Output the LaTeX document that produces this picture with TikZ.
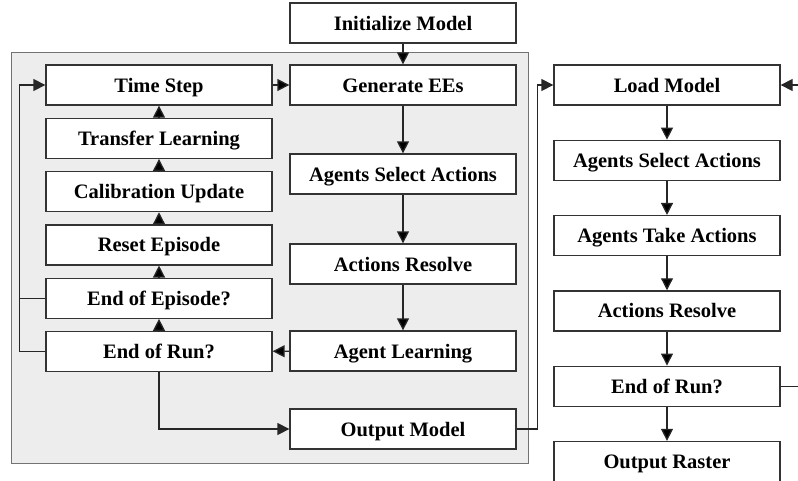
\documentclass[tikz,border=0pt]{standalone}
\usepackage{fontspec}
\setmainfont{Liberation Serif}
\usetikzlibrary{positioning, arrows.meta}

\tikzset{
  box/.style={draw=black!80, fill=white, line width=1.3pt, minimum width=226pt,
    minimum height=40pt, inner sep=0pt, text height=14pt, text depth=0pt,
    font=\bfseries\fontsize{20.5}{22}\selectfont},
  panel/.style={draw=black!55, fill=black!7, line width=1pt},
  link/.style={draw=black!85, line width=1.3pt}
}

\begin{document}
\begin{tikzpicture}[x=1pt, y=1pt, on grid, node distance=53.3pt,
    >={Triangle[length=12pt, width=12pt]}]
    \useasboundingbox (0,0) rectangle (798,-480);
    \draw[panel] (11,-52) rectangle (528,-463);

    % inner loop, middle column
    \node[box] (gen) at (403,-85) {Generate EEs};
    \node[box] (init) [above=62pt of gen] {Initialize Model};
    \node[box] (sel1) [below=89pt of gen] {Agents Select Actions};
    \node[box] (res1) [below=90pt of sel1] {Actions Resolve};
    \node[box] (learn) [below=87pt of res1] {Agent Learning};
    \node[box] (outmod) [below=78pt of learn] {Output Model};

    % left column
    \node[box] (time) [left=244pt of gen] {Time Step};
    \node[box] (transfer) [below=of time] {Transfer Learning};
    \node[box] (calib) [below=of transfer] {Calibration Update};
    \node[box] (reset) [below=of calib] {Reset Episode};
    \node[box] (endep) [below=of reset] {End of Episode?};
    \node[box] (endrun) [below=of endep] {End of Run?};

    % right column
    \node[box] (load) [right=264pt of gen] {Load Model};
    \node[box] (sel2) [below=75.3pt of load] {Agents Select Actions};
    \node[box] (take) [below=75.3pt of sel2] {Agents Take Actions};
    \node[box] (res2) [below=75.3pt of take] {Actions Resolve};
    \node[box] (endrun2) [below=75.3pt of res2] {End of Run?};
    \node[box] (raster) [below=75.3pt of endrun2] {Output Raster};

    \path[link, ->]
    (init) edge (gen)
    (time) edge (gen)
    (gen) edge (sel1)
    (sel1) edge (res1)
    (res1) edge (learn)
    (learn) edge (endrun)
    (endrun) edge (endep)
    (endep) edge (reset)
    (reset) edge (calib)
    (calib) edge (transfer)
    (transfer) edge (time)
    (load) edge (sel2)
    (sel2) edge (take)
    (take) edge (res2)
    (res2) edge (endrun2)
    (endrun2) edge (raster);

    \draw[link, ->] (endrun.west) -- ++(-26,0) |- (time.west);
    \draw[link] (endep.west) -- ++(-26,0);
    \draw[link, ->] (endrun.south) |- (outmod.west);
    \draw[link, ->] (outmod.east) -- ++(21,0) |- (load.west);
    \draw[link, ->] (endrun2.east) -- ++(30,0) |- (load.east);
\end{tikzpicture}
\end{document}
